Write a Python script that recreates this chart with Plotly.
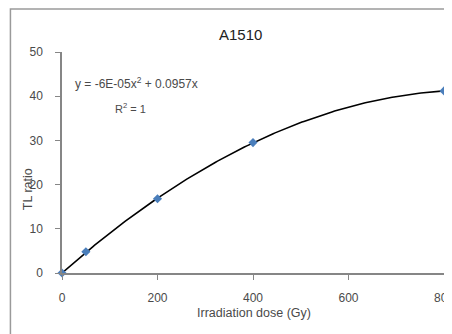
import numpy as np
import plotly.graph_objects as go

title = "A1510"
dose = [0, 50, 200, 400, 800]
tl_ratio = [0, 4.8, 16.8, 29.5, 41.2]
x_ticks = [0, 200, 400, 600, 800]
y_ticks = [0, 10, 20, 30, 40, 50]
x_title = "Irradiation dose (Gy)"
y_title = "TL ratio"
equation = "y = -6E-05x<sup>2</sup> + 0.0957x"
r2_text = "R<sup>2</sup> = 1"

# quadratic trendline through origin fitted to the data
xd = np.array(dose, dtype=float)
yd = np.array(tl_ratio, dtype=float)
A = np.vstack([xd**2, xd]).T
coef, *_ = np.linalg.lstsq(A, yd, rcond=None)
xs = np.linspace(0, 800, 200)
ys = coef[0] * xs**2 + coef[1] * xs

font = "Liberation Sans, Arial, sans-serif"
axis_col = "#868686"
txt_col = "#4a4a4a"

fig = go.Figure()
fig.add_trace(go.Scatter(x=xs, y=ys, mode="lines",
                         line=dict(color="black", width=1.6),
                         hoverinfo="skip", cliponaxis=False))
fig.add_trace(go.Scatter(x=dose, y=tl_ratio, mode="markers",
                         marker=dict(symbol="diamond", size=7, color="#4a7ebb"),
                         cliponaxis=False))

fig.update_layout(
    width=444, height=326,
    margin=dict(l=54, r=8, t=44, b=61, autoexpand=False),
    paper_bgcolor="white", plot_bgcolor="white",
    showlegend=False,
    font=dict(family=font, size=12, color=txt_col),
    xaxis=dict(range=[0, 800], tickvals=x_ticks, showgrid=False, zeroline=False,
               showline=True, linecolor=axis_col, linewidth=1.5,
               ticks="outside", ticklen=5, tickcolor=axis_col,
               ticklabelstandoff=8, automargin=False, ticklabeloverflow="allow"),
    yaxis=dict(range=[0, 50], tickvals=y_ticks, showgrid=False, zeroline=False,
               showline=True, linecolor=axis_col, linewidth=1.5,
               ticks="outside", ticklen=5, tickcolor=axis_col,
               ticklabelstandoff=10, automargin=False),
    shapes=[dict(type="rect", xref="paper", yref="paper",
                 x0=-0.135, x1=1.2, y0=-0.5, y1=1.195,
                 line=dict(color="#9a9a9a", width=1.5), layer="below")],
    annotations=[
        dict(text=title, xref="paper", yref="paper", x=0.466, y=1.077,
             xanchor="center", yanchor="middle", showarrow=False,
             font=dict(size=15, color="#222222")),
        dict(text=equation, xref="x", yref="y", x=23, y=43, xanchor="left",
             yanchor="middle", showarrow=False, font=dict(size=12, color=txt_col)),
        dict(text=r2_text, xref="x", yref="y", x=144, y=37.3, xanchor="center",
             yanchor="middle", showarrow=False, font=dict(size=11, color=txt_col)),
        dict(text=x_title, xref="paper", yref="paper", x=0.503, y=-0.181,
             xanchor="center", yanchor="middle", showarrow=False,
             font=dict(size=12.5, color=txt_col)),
        dict(text=y_title, xref="paper", yref="paper", x=-0.0885, y=0.38,
             textangle=-90, showarrow=False, xanchor="center", yanchor="middle",
             font=dict(size=12.5, color=txt_col)),
    ],
)

fig.write_html("out.html")
